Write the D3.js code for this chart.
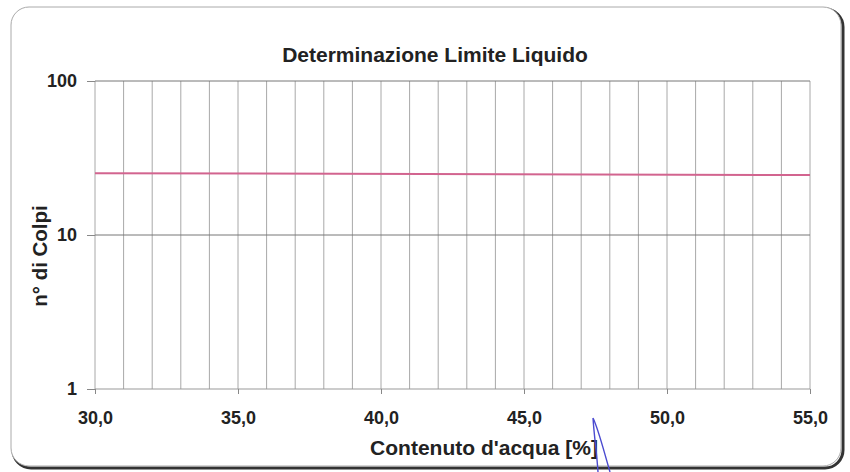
<!DOCTYPE html>
<html>
<head>
<meta charset="utf-8">
<script src="https://cdn.jsdelivr.net/npm/d3@7"></script>
<style>
	body { margin: 0; background: #fff; }
	text { font-family: "Liberation Sans", Arial, sans-serif; fill: #222; }
</style>
</head>
<body>
<div id="chart"></div>
<script>

// data
var lineX = [30, 55];
var lineY = [25.2, 24.5];
var xTicks = [30, 35, 40, 45, 50, 55];
var yTicks = [1, 10, 100];
var xGrid = d3.range(30, 56, 1);

var chartTitle = 'Determinazione Limite Liquido';
var xTitle = "Contenuto d'acqua [%]";
var yTitle = 'n° di Colpi';

var svgWidth = 850;
var svgHeight = 472;
var margin = {top: 81, right: 40, bottom: 83, left: 95};
var w = svgWidth - margin.left - margin.right;
var h = svgHeight - margin.top - margin.bottom;

var svg = d3.select('#chart').append('svg')
	.attr('width', svgWidth)
	.attr('height', svgHeight);

// frame with rounded corners and a dark shadow on the right/bottom
svg.append('rect')
	.attr('x', 13).attr('y', 9)
	.attr('width', 830).attr('height', 459)
	.attr('rx', 18)
	.style('fill', 'none')
	.style('stroke', '#333')
	.style('stroke-width', 3);
svg.append('rect')
	.attr('x', 11).attr('y', 7)
	.attr('width', 830).attr('height', 459)
	.attr('rx', 18)
	.style('fill', '#fff')
	.style('stroke', '#aaa')
	.style('stroke-width', 1);

var g = svg.append('g')
	.attr('transform', 'translate(' + margin.left + ',' + margin.top + ')');

var x = d3.scaleLinear().domain([30, 55]).range([0, w]);
var y = d3.scaleLog().domain([1, 100]).range([h, 0]);

// vertical grid
g.selectAll('.vgrid').data(xGrid).enter().append('line')
	.attr('class', 'vgrid')
	.attr('x1', function(d) { return x(d); })
	.attr('x2', function(d) { return x(d); })
	.attr('y1', 0).attr('y2', h)
	.style('stroke', '#a8a8a8')
	.style('stroke-width', 1);

// horizontal grid
g.selectAll('.hgrid').data(yTicks).enter().append('line')
	.attr('class', 'hgrid')
	.attr('x1', 0).attr('x2', w)
	.attr('y1', function(d) { return y(d); })
	.attr('y2', function(d) { return y(d); })
	.style('stroke', function(d) { return d == 1 ? '#999' : '#777'; })
	.style('stroke-width', 1);

// axes
var xAxis = d3.axisBottom(x).tickValues(xTicks).tickSize(5).tickPadding(6)
	.tickFormat(function(d) { return d3.format('.1f')(d).replace('.', ','); });
var yAxis = d3.axisLeft(y).tickValues(yTicks).tickSize(8).tickPadding(10)
	.tickFormat(d3.format('d'));

var gx = g.append('g').attr('transform', 'translate(0,' + h + ')').call(xAxis);
var gy = g.append('g').call(yAxis);

[gx, gy].forEach(function(a) {
	a.select('.domain').remove();
	a.selectAll('.tick line').style('stroke', '#888');
	a.selectAll('.tick text')
		.style('font-size', '18px')
		.style('font-weight', 'bold')
		.style('fill', '#222');
});
gx.selectAll('.tick text').attr('y', 35).attr('dy', '0');

// the line
var line = d3.line()
	.x(function(d, i) { return x(lineX[i]); })
	.y(function(d) { return y(d); });

g.append('path')
	.datum(lineY)
	.attr('d', line)
	.style('fill', 'none')
	.style('stroke', '#d2648f')
	.style('stroke-width', 2);

// titles
svg.append('text')
	.attr('x', 435).attr('y', 62)
	.style('text-anchor', 'middle')
	.style('font-size', '21px')
	.style('font-weight', 'bold')
	.text(chartTitle);

svg.append('text')
	.attr('x', 484).attr('y', 455)
	.style('text-anchor', 'middle')
	.style('font-size', '21px')
	.style('font-weight', 'bold')
	.text(xTitle);

svg.append('text')
	.attr('transform', 'translate(47,256) rotate(-90)')
	.style('text-anchor', 'middle')
	.style('font-size', '20.5px')
	.style('font-weight', 'bold')
	.text(yTitle);

// pen mark on the scan
svg.append('path')
	.attr('d', 'M593,418 C594,435 597,455 598,472 M593,418 C598,428 603,448 610,472')
	.style('fill', 'none')
	.style('stroke', '#4a4ad0')
	.style('stroke-width', 1.4);

</script>
</body>
</html>
